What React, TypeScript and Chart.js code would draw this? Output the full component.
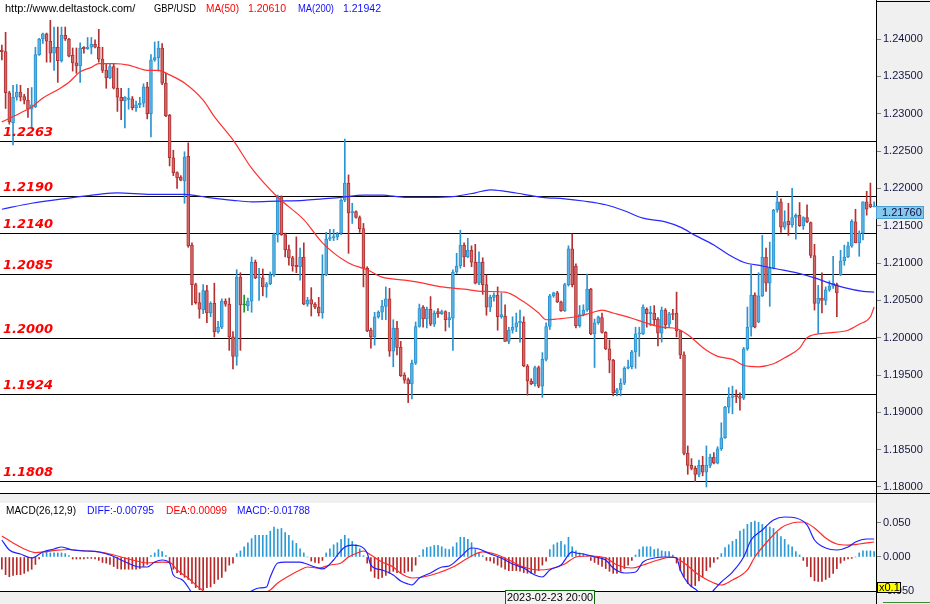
import React, { useEffect, useRef } from 'react';
import { Chart, registerables } from 'chart.js';
Chart.register(...registerables);

// ---------- price data (4H candles, GBP/USD) ----------
const opens = [
1.2385,1.2383,1.2328,1.2288,1.2322,1.2329,1.2323,1.2318,1.2306,1.2309,
1.2379,1.2400,1.2407,1.2397,1.2381,1.2389,1.2371,1.2405,1.2400,1.2378,
1.2368,1.2364,1.2389,1.2387,1.2389,1.2393,1.2389,1.2373,1.2358,1.2348,
1.2363,1.2334,1.2322,1.2317,1.2319,1.2320,1.2308,1.2312,1.2314,1.2336,
1.2300,1.2372,1.2375,1.2388,1.2341,1.2298,1.2241,1.2221,1.2215,1.2210,
1.2243,1.2124,1.2071,1.2047,1.2037,1.2063,1.2033,1.2046,1.2008,1.2014,
1.2049,1.2045,1.2001,1.1975,1.2081,1.2044,1.2043,1.2049,1.2101,1.2080,
1.2080,1.2068,1.2072,1.2084,1.2138,1.2189,1.2138,1.2118,1.2107,1.2097,
1.2095,1.2108,1.2045,1.2051,1.2045,1.2041,1.2033,1.2084,1.2132,1.2134,
1.2135,1.2140,1.2184,1.2207,1.2167,1.2169,1.2161,1.2146,1.2093,1.2010,
1.2001,1.2028,1.2034,1.2042,1.2052,1.1982,1.2013,1.1987,1.1950,1.1944,
1.1938,1.1966,1.2015,1.2041,1.2025,1.2038,1.2018,1.2035,1.2032,1.2035,
1.2024,1.2026,1.2088,1.2096,1.2124,1.2108,1.2117,1.2101,1.2073,1.2101,
1.2071,1.2041,1.2054,1.2057,1.2028,1.2029,1.1995,1.2010,1.2014,1.2020,
1.2021,1.1962,1.1942,1.1938,1.1960,1.1935,1.1971,1.2015,1.2056,1.2060,
1.2048,1.2036,1.2071,1.2119,1.2096,1.2016,1.2031,1.2037,1.2065,1.2005,
1.2020,1.2027,1.2007,1.1985,1.1970,1.1926,1.1930,1.1939,1.1959,1.1961,
1.1981,1.2005,1.2005,1.2038,1.2032,1.2033,1.2025,1.2006,1.2037,1.2018,
1.2032,1.2033,1.2009,1.1977,1.1845,1.1829,1.1825,1.1817,1.1829,1.1820,
1.1829,1.1840,1.1832,1.1851,1.1866,1.1907,1.1920,1.1922,1.1921,1.1919,
1.1985,1.2014,1.2057,1.2021,1.2056,1.2108,1.2073,1.2093,1.2171,1.2182,
1.2148,1.2156,1.2151,1.2161,1.2164,1.2150,1.2161,1.2154,1.2110,1.2046,
1.2053,1.2050,1.2064,1.2069,1.2071,1.2084,1.2103,1.2108,1.2123,1.2155,
1.2127,1.2140,1.2182,1.2179,1.2175];
const highs = [
1.2392,1.2409,1.2330,1.2338,1.2339,1.2338,1.2326,1.2334,1.2335,1.2389,
1.2401,1.2408,1.2408,1.2425,1.2416,1.2416,1.2416,1.2416,1.2401,1.2388,
1.2388,1.2395,1.2390,1.2402,1.2402,1.2399,1.2413,1.2389,1.2366,1.2367,
1.2367,1.2361,1.2334,1.2323,1.2334,1.2323,1.2317,1.2322,1.2340,1.2342,
1.2379,1.2396,1.2397,1.2394,1.2354,1.2299,1.2251,1.2222,1.2217,1.2249,
1.2261,1.2127,1.2073,1.2060,1.2071,1.2070,1.2048,1.2073,1.2022,1.2052,
1.2052,1.2053,1.2008,1.2091,1.2087,1.2057,1.2053,1.2108,1.2104,1.2093,
1.2092,1.2074,1.2088,1.2140,1.2191,1.2190,1.2140,1.2124,1.2109,1.2135,
1.2120,1.2127,1.2054,1.2067,1.2047,1.2054,1.2111,1.2141,1.2145,1.2145,
1.2141,1.2186,1.2266,1.2218,1.2180,1.2170,1.2163,1.2153,1.2095,1.2013,
1.2034,1.2036,1.2050,1.2068,1.2066,1.2024,1.2022,1.1995,1.1953,1.1946,
1.1970,1.2021,1.2045,1.2043,1.2041,1.2055,1.2036,1.2039,1.2037,1.2036,
1.2034,1.2091,1.2113,1.2144,1.2127,1.2133,1.2123,1.2125,1.2115,1.2107,
1.2084,1.2057,1.2060,1.2068,1.2060,1.2044,1.2014,1.2028,1.2033,1.2037,
1.2028,1.1964,1.1945,1.1962,1.1962,1.1980,1.2020,1.2058,1.2061,1.2062,
1.2049,1.2073,1.2123,1.2139,1.2099,1.2043,1.2044,1.2085,1.2066,1.2025,
1.2029,1.2033,1.2008,1.1997,1.1971,1.1932,1.1945,1.1961,1.1970,1.1983,
1.2014,1.2014,1.2044,1.2040,1.2042,1.2043,1.2027,1.2041,1.2039,1.2034,
1.2038,1.2061,1.2010,1.1981,1.1855,1.1838,1.1828,1.1836,1.1841,1.1855,
1.1844,1.1846,1.1854,1.1886,1.1908,1.1933,1.1935,1.1930,1.1926,1.1987,
1.2041,1.2097,1.2060,1.2087,1.2137,1.2120,1.2128,1.2172,1.2196,1.2186,
1.2170,1.2180,1.2200,1.2166,1.2181,1.2162,1.2178,1.2155,1.2125,1.2070,
1.2087,1.2068,1.2076,1.2109,1.2073,1.2117,1.2124,1.2128,1.2158,1.2172,
1.2143,1.2182,1.2196,1.2207,1.2182];
const lows = [
1.2372,1.2307,1.2286,1.2258,1.2318,1.2317,1.2313,1.2295,1.2281,1.2308,
1.2378,1.2394,1.2369,1.2369,1.2358,1.2342,1.2369,1.2398,1.2376,1.2357,
1.2354,1.2342,1.2381,1.2386,1.2380,1.2388,1.2369,1.2355,1.2334,1.2347,
1.2333,1.2303,1.2292,1.2281,1.2306,1.2305,1.2303,1.2308,1.2309,1.2293,
1.2269,1.2370,1.2357,1.2339,1.2296,1.2230,1.2217,1.2200,1.2210,1.2180,
1.2121,1.2044,1.2045,1.2026,1.2032,1.2020,1.2028,1.2001,1.2006,1.2012,
1.2042,1.1983,1.1958,1.1963,1.1983,1.2034,1.2036,1.2034,1.2079,1.2050,
1.2056,1.2054,1.2071,1.2082,1.2128,1.2137,1.2108,1.2097,1.2089,1.2087,
1.2077,1.2044,1.2042,1.2029,1.2039,1.2029,1.2026,1.2083,1.2130,1.2130,
1.2131,1.2138,1.2182,1.2113,1.2153,1.2160,1.2141,1.2068,1.2008,1.1986,
1.1990,1.2026,1.2024,1.2024,1.1975,1.1961,1.1977,1.1948,1.1939,1.1913,
1.1918,1.1964,1.2014,1.2014,1.2013,1.2016,1.2015,1.2027,1.2031,1.2009,
1.2014,1.1983,1.2086,1.2093,1.2095,1.2107,1.2095,1.2072,1.2071,1.2058,
1.2030,1.2035,1.2049,1.2010,1.2026,1.1995,1.1992,1.2006,1.2008,1.1994,
1.1961,1.1923,1.1937,1.1935,1.1933,1.1920,1.1969,1.2011,1.2054,1.2047,
1.2035,1.2035,1.2069,1.2068,1.2013,1.2014,1.2029,1.2035,1.2004,1.1960,
1.2018,1.2006,1.1984,1.1953,1.1922,1.1922,1.1922,1.1937,1.1958,1.1958,
1.1959,1.1975,1.2004,1.2014,1.2016,1.2016,1.1989,1.1994,1.2012,1.2014,
1.2024,1.2001,1.1972,1.1843,1.1817,1.1823,1.1807,1.1814,1.1815,1.1800,
1.1826,1.1831,1.1831,1.1849,1.1865,1.1899,1.1898,1.1913,1.1903,1.1917,
1.1983,1.2002,1.2013,1.2020,1.2055,1.2062,1.2042,1.2092,1.2168,1.2141,
1.2145,1.2137,1.2148,1.2132,1.2149,1.2145,1.2154,1.2107,1.2037,1.2006,
1.2033,1.2044,1.2062,1.2066,1.2028,1.2083,1.2097,1.2107,1.2121,1.2127,
1.2109,1.2131,1.2164,1.2174,1.2175];
const closes = [
1.2383,1.2328,1.2289,1.2322,1.2329,1.2322,1.2318,1.2306,1.2312,1.2379,
1.2400,1.2407,1.2397,1.2381,1.2389,1.2371,1.2405,1.2400,1.2377,1.2368,
1.2364,1.2388,1.2387,1.2389,1.2393,1.2389,1.2373,1.2358,1.2348,1.2363,
1.2334,1.2322,1.2317,1.2322,1.2321,1.2308,1.2312,1.2314,1.2336,1.2300,
1.2372,1.2375,1.2388,1.2341,1.2297,1.2241,1.2221,1.2214,1.2211,1.2242,
1.2123,1.2071,1.2047,1.2038,1.2063,1.2033,1.2046,1.2008,1.2014,1.2049,
1.2045,1.2001,1.1975,1.2081,1.2044,1.2044,1.2049,1.2101,1.2080,1.2081,
1.2068,1.2072,1.2084,1.2138,1.2189,1.2138,1.2118,1.2107,1.2096,1.2095,
1.2108,1.2045,1.2050,1.2045,1.2041,1.2033,1.2084,1.2132,1.2134,1.2135,
1.2139,1.2184,1.2207,1.2167,1.2169,1.2161,1.2146,1.2093,1.2009,1.2001,
1.2028,1.2034,1.2042,1.2052,1.1982,1.2013,1.1987,1.1949,1.1943,1.1938,
1.1966,1.2015,1.2039,1.2025,1.2038,1.2018,1.2033,1.2032,1.2035,1.2024,
1.2027,1.2088,1.2096,1.2124,1.2108,1.2117,1.2101,1.2073,1.2101,1.2071,
1.2041,1.2054,1.2057,1.2028,1.2031,1.1995,1.2010,1.2014,1.2020,1.2022,
1.1962,1.1942,1.1938,1.1960,1.1935,1.1971,1.2015,1.2056,1.2060,1.2048,
1.2036,1.2071,1.2119,1.2071,1.2016,1.2031,1.2037,1.2065,1.2005,1.2020,
1.2028,1.2007,1.1985,1.1970,1.1926,1.1930,1.1939,1.1959,1.1961,1.1981,
1.2005,1.2006,1.2041,1.2032,1.2034,1.2024,1.2006,1.2037,1.2017,1.2032,
1.2031,1.2009,1.1977,1.1845,1.1829,1.1825,1.1817,1.1829,1.1820,1.1829,
1.1840,1.1832,1.1851,1.1866,1.1907,1.1920,1.1922,1.1921,1.1919,1.1985,
1.2014,1.2057,1.2014,1.2056,1.2108,1.2073,1.2093,1.2171,1.2182,1.2148,
1.2155,1.2151,1.2161,1.2164,1.2150,1.2161,1.2155,1.2110,1.2046,1.2053,
1.2050,1.2064,1.2069,1.2073,1.2060,1.2103,1.2108,1.2123,1.2156,1.2127,
1.2140,1.2182,1.2172,1.2175,1.2176];

const candleLabels = opens.map((_, i) => String(i + 1));

// moving averages, read at sampled candles
const ma50Idx = [0,5,8,11,15,18,21,24,26,30,34,36,39,42,45,49,54,57,62,67,74,81,86,93,98,102,108,113,118,124,129,135,140,144,146,149,154,158,161,164,169,172,177,181,184,189,192,196,199,203,207,210,214,216,221,227,230,233,234];
const ma50Val = [1.2289,1.2301,1.2309,1.2321,1.2332,1.2342,1.2356,1.2362,1.2367,1.2367,1.2365,1.2362,1.2358,1.2358,1.2352,1.2341,1.2318,1.2296,1.2265,1.2227,1.2188,1.2158,1.2127,1.2100,1.2091,1.2081,1.2077,1.2073,1.2068,1.2065,1.2062,1.2061,1.2048,1.2033,1.2024,1.2025,1.2028,1.2033,1.2037,1.2033,1.2026,1.2021,1.2014,1.2012,1.2004,1.1983,1.1975,1.1971,1.1963,1.1961,1.1965,1.1973,1.1986,1.2000,1.2006,1.2010,1.2018,1.2028,1.2041];
const ma200Idx = [0,8,18,26,31,40,49,55,62,67,74,81,86,91,97,102,108,115,121,127,131,135,140,145,151,156,162,167,172,178,182,186,191,195,199,204,208,213,218,222,226,231,234];
const ma200Val = [1.2172,1.2180,1.2187,1.2192,1.2194,1.2192,1.2192,1.2188,1.2184,1.2182,1.2183,1.2184,1.2186,1.2188,1.2191,1.2191,1.2188,1.2188,1.2189,1.2194,1.2198,1.2196,1.2192,1.2188,1.2186,1.2183,1.2178,1.2170,1.2160,1.2155,1.2148,1.2137,1.2124,1.2111,1.2101,1.2096,1.2092,1.2087,1.2080,1.2073,1.2067,1.2062,1.2061];

// horizontal support / resistance levels
const levels = [1.2263, 1.2190, 1.2140, 1.2085, 1.2000, 1.1924, 1.1808];
const priceTicks = [1.24, 1.235, 1.23, 1.225, 1.22, 1.215, 1.21, 1.205, 1.2, 1.195, 1.19, 1.185, 1.18];
const lastPrice = 1.2176;

// ---------- MACD data ----------
const macdHist = [
-0.018,-0.026,-0.029,-0.027,-0.026,-0.026,-0.024,-0.021,-0.018,-0.011,
-0.003,0.005,0.008,0.006,0.006,0.006,0.006,0.005,0.002,-0.003,
-0.003,-0.003,-0.003,-0.002,-0.002,-0.003,-0.005,-0.008,-0.009,-0.011,
-0.014,-0.017,-0.018,-0.018,-0.018,-0.018,-0.018,-0.017,-0.014,-0.011,
0.002,0.006,0.011,0.008,0.002,-0.009,-0.018,-0.023,-0.026,-0.030,
-0.033,-0.039,-0.045,-0.048,-0.048,-0.045,-0.044,-0.039,-0.033,-0.030,
-0.021,-0.012,-0.009,0.005,0.009,0.015,0.021,0.027,0.032,0.032,
0.032,0.032,0.038,0.044,0.041,0.042,0.036,0.032,0.024,0.020,
0.012,0.006,0,-0.006,-0.008,-0.009,-0.005,0.006,0.012,0.018,
0.021,0.026,0.032,0.027,0.023,0.018,0.012,0.002,-0.009,-0.021,
-0.030,-0.032,-0.030,-0.027,-0.024,-0.021,-0.023,-0.024,
-0.023,-0.021,-0.021,-0.012,0.002,0.011,0.014,0.015,0.017,0.017,
0.015,0.012,0.011,0.015,0.021,0.029,0.029,0.026,0.021,0.011,
0.006,0.002,-0.005,-0.006,-0.009,-0.012,-0.015,-0.018,-0.020,-0.020,
-0.020,-0.021,-0.023,-0.024,-0.024,-0.024,-0.020,-0.012,-0.006,0.011,
0.018,0.021,0.023,0.018,0.029,0.015,0.009,0.006,0.005,0.002,
-0.005,-0.008,-0.011,-0.014,-0.017,-0.021,-0.024,-0.024,-0.021,-0.017,
-0.012,-0.005,0.003,0.011,0.015,0.015,0.015,0.011,0.012,0.009,
0.008,0.008,0.003,-0.009,-0.020,-0.029,-0.039,-0.044,-0.042,-0.035,
-0.029,-0.020,-0.015,-0.008,-0.003,0.005,0.014,0.018,0.023,0.026,
0.038,0.041,0.048,0.051,0.053,0.051,0.048,0.045,0.044,0.042,
0.036,0.030,0.026,0.018,0.015,0.008,0.003,-0.005,-0.014,-0.029,
-0.035,-0.036,-0.036,-0.033,-0.030,-0.024,-0.017,-0.009,-0.005,-0.003,
-0.002,0,0.006,0.009,0.009,0.009,0.008];
const diffIdx = [0,2,5,8,11,14,16,19,23,26,29,32,35,37,39,41,43,45,46,48,49,51,54,57,59,62,64,67,69,71,72,74,76,80,81,84,86,89,90,92,94,96,98,99,102,105,107,109,110,112,115,118,120,123,126,128,131,134,137,140,143,145,147,150,153,154,156,159,162,164,167,170,172,175,178,181,182,184,186,188,190,191,193,196,199,201,204,207,210,213,216,218,221,224,227,229,232,234];
const diffVal = [0.0250,0.0103,0.0044,-0.0015,0.0074,0.0118,0.0147,0.0103,0.0088,0.0074,0.0029,-0.0044,-0.0118,-0.0147,-0.0147,-0.0074,-0.0044,-0.0088,-0.0265,-0.0324,-0.0368,-0.0529,-0.0735,-0.0779,-0.0765,-0.0676,-0.0588,-0.0500,-0.0456,-0.0441,-0.0294,-0.0088,-0.0074,-0.0074,-0.0088,-0.0147,-0.0176,-0.0044,0.0029,0.0147,0.0176,0.0162,0.0059,-0.0118,-0.0191,-0.0265,-0.0353,-0.0397,-0.0412,-0.0309,-0.0235,-0.0147,-0.0132,0.0000,0.0132,0.0118,0.0044,-0.0015,-0.0103,-0.0162,-0.0265,-0.0294,-0.0191,-0.0118,0.0074,0.0059,0.0044,0.0000,-0.0044,-0.0162,-0.0235,-0.0221,-0.0074,-0.0015,0.0000,-0.0015,-0.0191,-0.0382,-0.0471,-0.0544,-0.0544,-0.0485,-0.0368,-0.0221,0.0000,0.0250,0.0397,0.0544,0.0588,0.0574,0.0471,0.0250,0.0132,0.0103,0.0147,0.0221,0.0265,0.0265];
const deaIdx = [0,3,6,9,12,15,18,21,26,30,35,39,43,45,47,50,53,55,58,61,64,67,69,72,74,77,80,82,85,88,91,93,96,97,99,102,105,107,110,113,117,121,126,129,133,136,140,144,147,151,154,158,162,165,169,172,176,180,183,187,191,193,196,200,202,205,209,212,215,218,221,224,227,230,234];
const deaVal = [0.0309,0.0206,0.0118,0.0065,0.0080,0.0100,0.0110,0.0095,0.0074,0.0029,-0.0044,-0.0088,-0.0074,-0.0080,-0.0191,-0.0309,-0.0456,-0.0530,-0.0603,-0.0630,-0.0630,-0.0590,-0.0559,-0.0485,-0.0382,-0.0279,-0.0191,-0.0147,-0.0162,-0.0118,-0.0088,0.0000,0.0074,0.0088,0.0029,-0.0074,-0.0147,-0.0240,-0.0309,-0.0294,-0.0235,-0.0147,0.0015,0.0074,0.0029,-0.0044,-0.0147,-0.0191,-0.0176,-0.0103,0.0000,0.0015,-0.0015,-0.0118,-0.0162,-0.0118,-0.0044,0.0000,-0.0088,-0.0265,-0.0382,-0.0412,-0.0338,-0.0191,0.0000,0.0206,0.0426,0.0500,0.0515,0.0426,0.0279,0.0191,0.0176,0.0191,0.0221];
const macdTicks = [0.05, 0, -0.05];
const crosshairIndex = 147;
const crosshairLabel = '2023-02-23 20:00';

// ---------- styles ----------
const UP_EDGE = '#2b93cf', UP_FILL = '#58b2e6';
const DN_EDGE = '#b53030', DN_FILL = '#cf6868';
const DOJI = '#1a9a1a';
const AXIS_BG = '#f0f0f0';
const LABEL_COLOR = '#161640';
const FONT = '"Liberation Sans", Arial, sans-serif';

const edgeColors = opens.map((o, i) => (closes[i] > o ? UP_EDGE : closes[i] < o ? DN_EDGE : DOJI));
const fillColors = opens.map((o, i) => (closes[i] > o ? UP_FILL : closes[i] < o ? DN_FILL : DOJI));
const pts = (idx: number[], vals: number[]) => idx.map((k, j) => ({ x: candleLabels[k], y: vals[j] }));

const fixAxis = (w: number) => (s: any) => { s.width = w; s.paddingTop = 0; s.paddingBottom = 0; };

const mainPlugin = {
  id: 'mainDeco',
  beforeDraw(chart: any) {
    const { ctx, chartArea, width, height } = chart;
    ctx.save();
    ctx.fillStyle = AXIS_BG;
    ctx.fillRect(chartArea.right, 0, width - chartArea.right, height);
    ctx.restore();
  },
  beforeDatasetsDraw(chart: any) {
    const { ctx, chartArea, scales } = chart;
    ctx.save();
    ctx.strokeStyle = '#000';
    ctx.lineWidth = 1;
    levels.forEach((v) => {
      const y = Math.round(scales.y.getPixelForValue(v)) + 0.5;
      ctx.beginPath();
      ctx.moveTo(chartArea.left, y);
      ctx.lineTo(chartArea.right, y);
      ctx.stroke();
    });
    ctx.restore();
  },
  afterDatasetsDraw(chart: any) {
    const { ctx, scales } = chart;
    ctx.save();
    ctx.font = 'italic bold 13px "DejaVu Sans"';
    ctx.fillStyle = '#ff0000';
    ctx.textBaseline = 'alphabetic';
    ctx.textAlign = 'left';
    levels.forEach((v) => {
      const y = scales.y.getPixelForValue(v);
      ctx.fillText(v.toFixed(4), 3, y - 5);
    });
    ctx.font = '11px ' + FONT;
    ctx.textBaseline = 'middle';
    const hy = 8.5;
    const parts: [string, number, string, number][] = [
      ['http://www.deltastock.com/', 5, '#000', 132],
      ['GBP/USD', 154, '#000', 42],
      ['MA(50)', 206, '#ff0000', 33],
      ['1.20610', 248, '#ff0000', 38],
      ['MA(200)', 298, '#1010ff', 36],
      ['1.21942', 343, '#1010ff', 38],
    ];
    parts.forEach(([t, x, c, w]) => { ctx.fillStyle = c; ctx.fillText(t, x, hy, w); });
    ctx.restore();
  },
  afterDraw(chart: any) {
    const { ctx, chartArea, scales, width } = chart;
    ctx.save();
    ctx.strokeStyle = '#000';
    ctx.lineWidth = 1;
    ctx.beginPath();
    ctx.moveTo(chartArea.right, 1.5);
    ctx.lineTo(width, 1.5);
    ctx.stroke();
    const py = Math.round(scales.y.getPixelForValue(lastPrice));
    ctx.fillStyle = '#84c8ee';
    ctx.fillRect(chartArea.right, py, 48, 13);
    ctx.strokeStyle = '#4a9fd4';
    ctx.strokeRect(chartArea.right + 0.5, py + 0.5, 47, 12);
    ctx.fillStyle = '#101040';
    ctx.font = '11px ' + FONT;
    ctx.textBaseline = 'middle';
    ctx.fillText(lastPrice.toFixed(5), chartArea.right + 6, py + 7);
    ctx.restore();
  },
};

const macdPlugin = {
  id: 'macdDeco',
  beforeDraw(chart: any) {
    const { ctx, chartArea, width, height } = chart;
    ctx.save();
    ctx.fillStyle = AXIS_BG;
    ctx.fillRect(0, 0, width, chartArea.top);
    ctx.fillRect(0, chartArea.bottom, width, height - chartArea.bottom);
    ctx.fillRect(chartArea.right, chartArea.top, width - chartArea.right, chartArea.bottom - chartArea.top);
    ctx.restore();
  },
  afterDraw(chart: any) {
    const { ctx, chartArea, scales, width, height } = chart;
    ctx.save();
    ctx.strokeStyle = '#000';
    ctx.lineWidth = 1;
    ctx.beginPath();
    ctx.moveTo(0, 0.5); ctx.lineTo(width, 0.5);
    ctx.moveTo(0, chartArea.bottom + 0.5); ctx.lineTo(chartArea.right, chartArea.bottom + 0.5);
    ctx.moveTo(chartArea.right + 0.5, 0); ctx.lineTo(chartArea.right + 0.5, height);
    ctx.stroke();
    ctx.font = '11px ' + FONT;
    ctx.textBaseline = 'middle';
    const hy = 17.7;
    const parts: [string, number, string, number][] = [
      ['MACD(26,12,9)', 6, '#000', 70],
      ['DIFF:-0.00795', 87, '#1010ff', 67],
      ['DEA:0.00099', 166, '#ff0000', 61],
      ['MACD:-0.01788', 237, '#1010ff', 73],
    ];
    parts.forEach(([t, x, c, w]) => { ctx.fillStyle = c; ctx.fillText(t, x, hy, w); });
    ctx.fillStyle = '#ffff00';
    ctx.fillRect(chartArea.right + 1, 89, 24, 11);
    ctx.strokeStyle = '#000';
    ctx.strokeRect(chartArea.right + 1.5, 89.5, 23, 10);
    ctx.fillStyle = '#000';
    ctx.fillText('x0.1', chartArea.right + 3, 95, 21);
    const cx = scales.x.getPixelForValue(crosshairIndex);
    const bx = Math.round(cx - 44.5) + 0.5;
    ctx.fillStyle = '#f4f4f4';
    ctx.fillRect(bx, chartArea.bottom - 1, 89, height - chartArea.bottom + 1);
    ctx.strokeStyle = '#0a6a0a';
    ctx.strokeRect(bx, chartArea.bottom - 0.5, 89, height - chartArea.bottom + 2);
    ctx.fillStyle = '#000';
    ctx.textAlign = 'center';
    ctx.fillText(crosshairLabel, bx + 44.5, chartArea.bottom + 6.5, 86);
    ctx.strokeStyle = '#3a8a3a';
    ctx.beginPath();
    ctx.moveTo(chartArea.right + 7, height - 1.5);
    ctx.lineTo(width, height - 1.5);
    ctx.stroke();
    ctx.restore();
  },
};

function mainConfig(): any {
  return {
    type: 'bar',
    data: {
      labels: candleLabels,
      datasets: [
        {
          type: 'line', label: 'MA(50)', data: pts(ma50Idx, ma50Val),
          borderColor: '#ff3030', borderWidth: 1.2, pointRadius: 0,
          cubicInterpolationMode: 'monotone', order: 0,
        },
        {
          type: 'line', label: 'MA(200)', data: pts(ma200Idx, ma200Val),
          borderColor: '#2828ff', borderWidth: 1.2, pointRadius: 0,
          cubicInterpolationMode: 'monotone', order: 0,
        },
        {
          label: 'body', data: opens.map((o, i) => [o, closes[i]]),
          backgroundColor: fillColors, borderColor: edgeColors, borderWidth: 1,
          borderSkipped: false, barThickness: 3, minBarLength: 1, grouped: false, order: 1,
        },
        {
          label: 'wick', data: lows.map((l, i) => [l, highs[i]]),
          backgroundColor: edgeColors, borderWidth: 0, barThickness: 1, grouped: false, order: 2,
        },
      ],
    },
    options: {
      responsive: false, maintainAspectRatio: false, animation: false, events: [],
      layout: { padding: 0 },
      plugins: { legend: { display: false }, tooltip: { enabled: false } },
      scales: {
        x: { type: 'category', offset: true, display: false, grid: { display: false } },
        y: {
          position: 'right',
          min: 1.18 - 6 / 7466, max: 1.24 + 39 / 7466,
          afterBuildTicks: (s: any) => { s.ticks = priceTicks.map((v) => ({ value: v })); },
          afterFit: fixAxis(54),
          ticks: {
            callback: (v: any) => Number(v).toFixed(5), color: LABEL_COLOR, padding: 2,
            font: { family: FONT, size: 11 },
          },
          grid: { drawOnChartArea: false, drawTicks: true, tickLength: 5, color: '#808080' },
          border: { display: true, color: '#000', width: 1 },
        },
      },
    },
    plugins: [mainPlugin],
  };
}

function macdConfig(): any {
  return {
    type: 'bar',
    data: {
      labels: candleLabels,
      datasets: [
        {
          type: 'line', label: 'DIFF', data: pts(diffIdx, diffVal),
          borderColor: '#2020ff', borderWidth: 1.2, pointRadius: 0,
          cubicInterpolationMode: 'monotone', order: 0,
        },
        {
          type: 'line', label: 'DEA', data: pts(deaIdx, deaVal),
          borderColor: '#ff2a2a', borderWidth: 1.2, pointRadius: 0,
          cubicInterpolationMode: 'monotone', order: 0,
        },
        {
          label: 'MACD', data: macdHist,
          backgroundColor: macdHist.map((v) => (v >= 0 ? '#2b9ad6' : '#b42828')),
          borderWidth: 0, barThickness: 1, grouped: false, order: 1,
        },
      ],
    },
    options: {
      responsive: false, maintainAspectRatio: false, animation: false, events: [],
      layout: { padding: { top: 10, bottom: 13, left: 0, right: 0 } },
      plugins: { legend: { display: false }, tooltip: { enabled: false } },
      scales: {
        x: { type: 'category', offset: true, display: false, grid: { display: false } },
        y: {
          position: 'right',
          min: -0.05, max: 54 / 680,
          afterBuildTicks: (s: any) => { s.ticks = macdTicks.map((v) => ({ value: v })); },
          afterFit: fixAxis(54),
          ticks: {
            callback: (v: any) => Number(v).toFixed(3), color: LABEL_COLOR, padding: 2,
            font: { family: FONT, size: 11 },
          },
          grid: { drawOnChartArea: false, drawTicks: true, tickLength: 5, color: '#808080' },
          border: { display: true, color: '#000', width: 1 },
        },
      },
    },
    plugins: [macdPlugin],
  };
}

export default function App() {
  const mainRef = useRef<HTMLCanvasElement>(null);
  const macdRef = useRef<HTMLCanvasElement>(null);
  useEffect(() => {
    const c1 = new Chart(mainRef.current as HTMLCanvasElement, mainConfig());
    const c2 = new Chart(macdRef.current as HTMLCanvasElement, macdConfig());
    return () => { c1.destroy(); c2.destroy(); };
  }, []);
  return (
    <div style={{ position: 'fixed', left: 0, top: 0, width: 930, height: 604, background: '#fff', overflow: 'hidden' }}>
      <canvas ref={mainRef} width={930} height={493} style={{ position: 'absolute', left: 0, top: 0, width: 930, height: 493 }} />
      <canvas ref={macdRef} width={930} height={111} style={{ position: 'absolute', left: 0, top: 493, width: 930, height: 111 }} />
    </div>
  );
}
